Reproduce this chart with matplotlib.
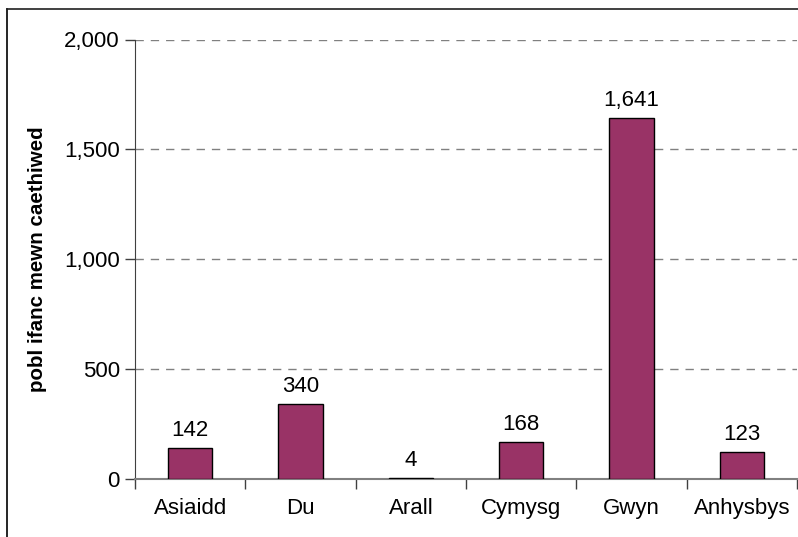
import matplotlib
matplotlib.use('Agg')
import matplotlib.pyplot as plt
from matplotlib.lines import Line2D
from matplotlib.ticker import FuncFormatter, MultipleLocator
import numpy as np

categories = ['Asiaidd', 'Du', 'Arall', 'Cymysg', 'Gwyn', 'Anhysbys']
values = [142, 340, 4, 168, 1641, 123]
y_ticks = [0, 500, 1000, 1500, 2000]

plt.rcParams['font.family'] = ['Liberation Sans', 'DejaVu Sans']

W, H = 798, 537
fig = plt.figure(figsize=(W / 100, H / 100), dpi=100)
ax = fig.add_axes([135 / W, 1 - 479 / H, (797 - 135) / W, (479 - 39.5) / H])

x = np.arange(len(categories))
ax.bar(x, values, width=0.4, color='#993366', edgecolor='black', linewidth=1.0, zorder=3)
for xi, v in zip(x, values):
    ax.annotate(f'{v:,}', (xi, v), xytext=(0, 5), textcoords='offset points',
                ha='center', va='bottom', fontsize=16)

ax.set_xlim(-0.5, len(categories) - 0.5)
ax.set_ylim(0, 2000)
ax.set_yticks(y_ticks)
ax.yaxis.set_major_formatter(FuncFormatter(lambda v, p: f'{int(v):,}'))
ax.set_xticks(x)
ax.set_xticklabels(categories)
ax.xaxis.set_minor_locator(MultipleLocator(1, offset=0.5))
ax.tick_params(axis='x', which='major', length=0, pad=14, labelsize=16)
ax.tick_params(axis='x', which='minor', length=7, width=1, color='#404040', direction='out')
ax.tick_params(axis='y', length=7, width=1, color='#404040', labelsize=16, pad=4)

for yv in y_ticks[1:]:
    ax.axhline(yv, color='#808080', linestyle=(0, (6, 5)), linewidth=1, zorder=1)

for s in ['top', 'right']:
    ax.spines[s].set_visible(False)
ax.spines['left'].set_color('#404040')
ax.spines['bottom'].set_color('#808080')
ax.spines['bottom'].set_linewidth(1.5)

ax.set_ylabel('pobl ifanc mewn caethiwed', fontsize=14.8, fontweight='bold', labelpad=12)

# frame around the chart (right and bottom edges fall outside the image)
fig.add_artist(Line2D([7 / W, 7 / W], [0, 1 - 9 / H], color='black', linewidth=1.2))
fig.add_artist(Line2D([7 / W, 1], [1 - 9 / H, 1 - 9 / H], color='#202020', linewidth=1.2))

fig.savefig('out.png', dpi=100)
